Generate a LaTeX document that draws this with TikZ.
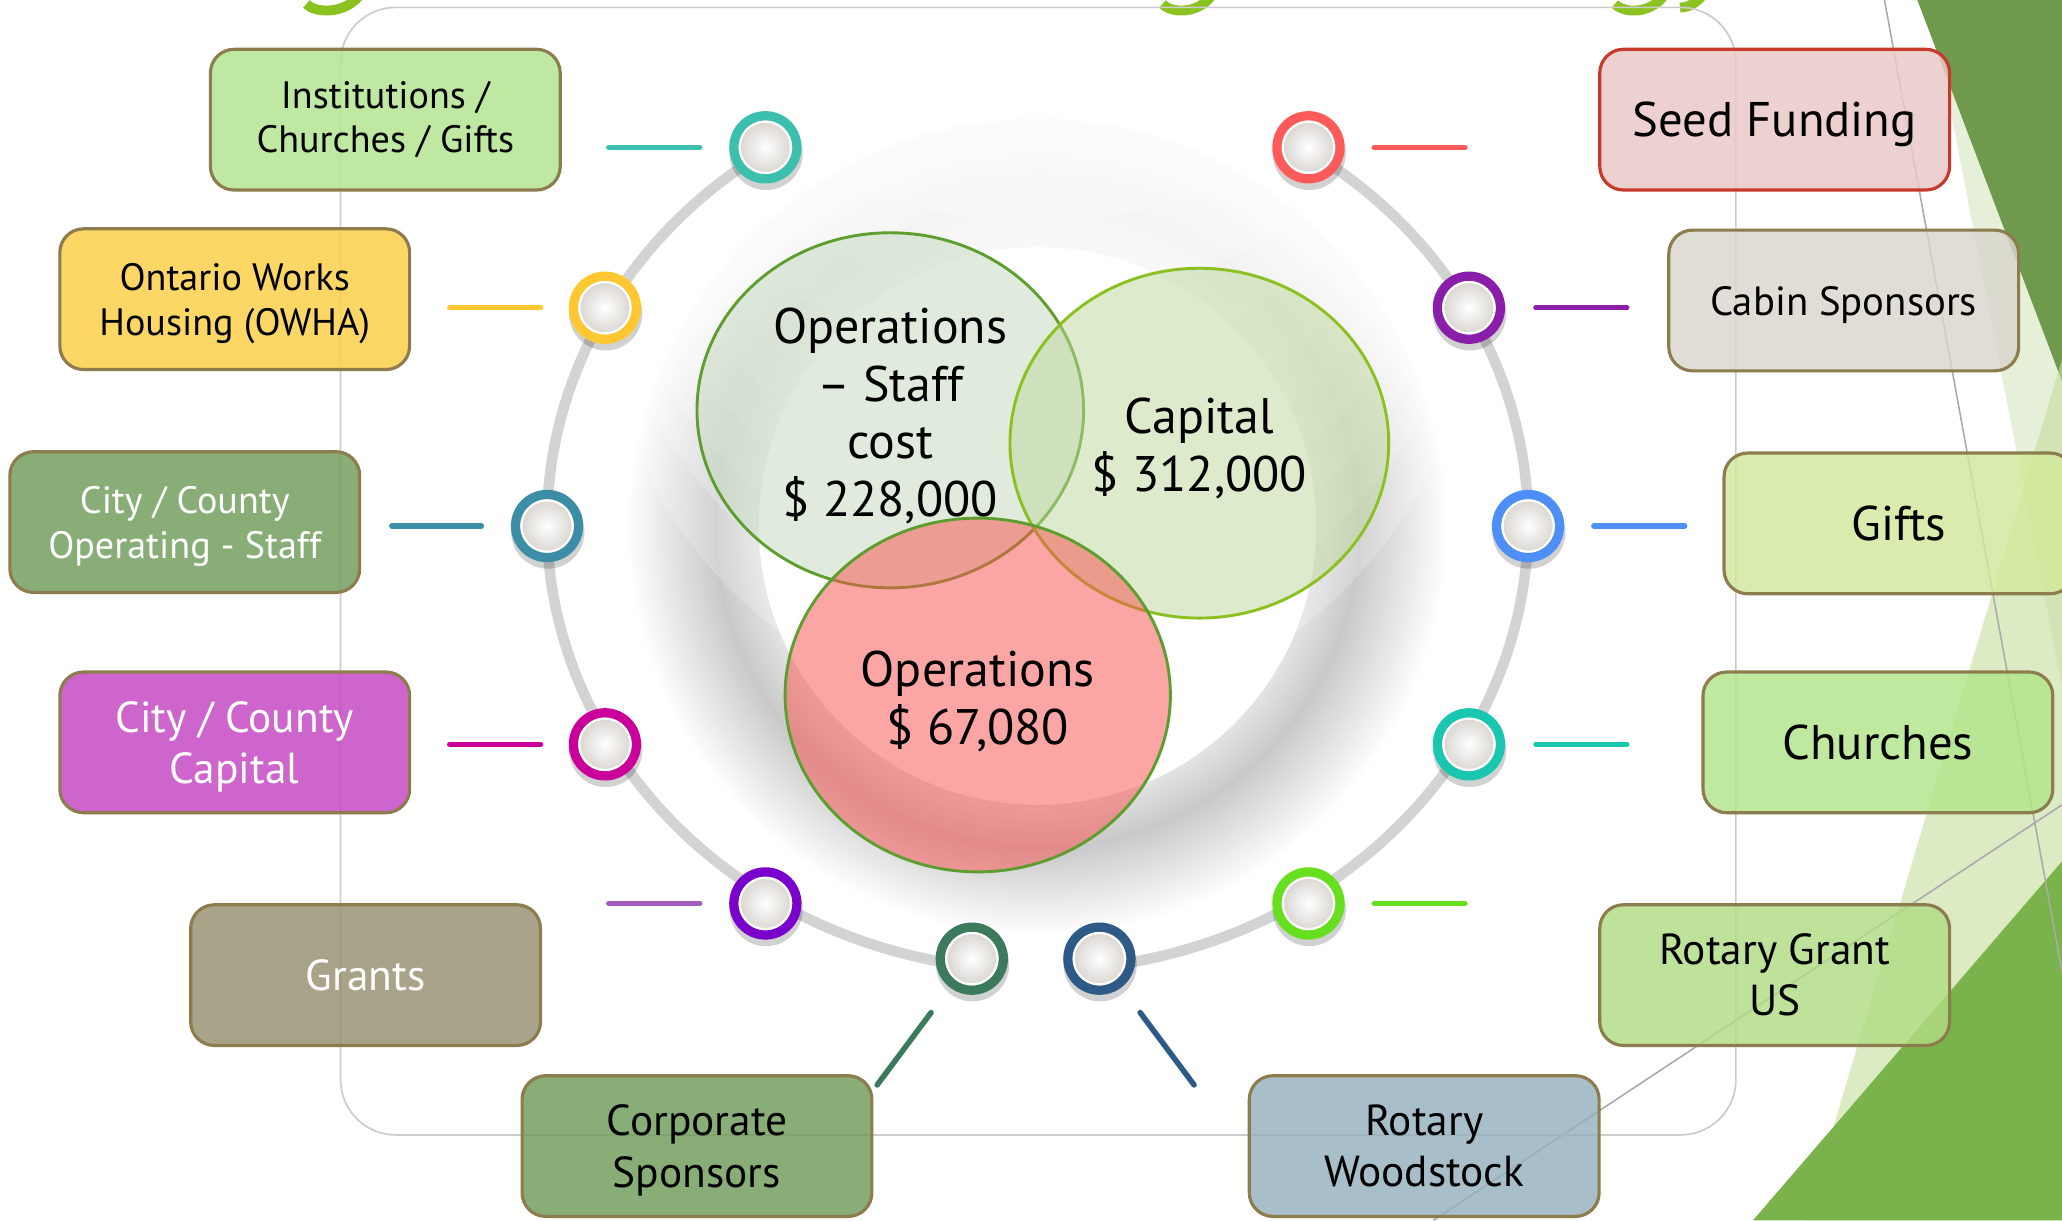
\documentclass[tikz,border=0pt]{standalone}
\usepackage{fontspec}
\setmainfont{PT Sans}
\usetikzlibrary{shapes.geometric,shadows}

\definecolor{darkgreen}{HTML}{6F9A4E}
\definecolor{paleA}{HTML}{E6EFD8}
\definecolor{paleB}{HTML}{C6DE9E}
\definecolor{midgreen}{HTML}{7AB24B}
\definecolor{thinline}{HTML}{AAAAAA}
\definecolor{titlegreen}{HTML}{8CC220}
\definecolor{framegray}{HTML}{CCCCCC}
\definecolor{ringgray}{HTML}{D3D3D3}
\definecolor{boxline}{HTML}{8C7C4E}
\definecolor{seedline}{HTML}{C73A2B}
\definecolor{cInst}{HTML}{B2E48E}
\definecolor{cOwha}{HTML}{FDCF44}
\definecolor{cCityOp}{HTML}{709C58}
\definecolor{cCityCap}{HTML}{C244C2}
\definecolor{cGrants}{HTML}{958F70}
\definecolor{cCorp}{HTML}{709C58}
\definecolor{cRotW}{HTML}{96B0BC}
\definecolor{cRotG}{HTML}{B1DC84}
\definecolor{cChurch}{HTML}{B2E58A}
\definecolor{cGifts}{HTML}{D3E99B}
\definecolor{cCabin}{HTML}{D8D6CC}
\definecolor{cSeed}{HTML}{EAC8C6}
\definecolor{vA}{HTML}{C3D9BF}
\definecolor{vAline}{HTML}{5E9E2E}
\definecolor{vB}{HTML}{BDD79B}
\definecolor{vBline}{HTML}{8CC020}
\definecolor{vC}{HTML}{F95452}
\definecolor{mkgray}{HTML}{D2CEC8}
\definecolor{mk1}{HTML}{3DBFAD}
\definecolor{mk2}{HTML}{FFC730}
\definecolor{mk3}{HTML}{3B8EA5}
\definecolor{mk4}{HTML}{C9009A}
\definecolor{mk5}{HTML}{7A00CC}
\definecolor{ln5}{HTML}{A35DB8}
\definecolor{mk6}{HTML}{3B7A5C}
\definecolor{mk7}{HTML}{2E5A87}
\definecolor{mk8}{HTML}{66E01E}
\definecolor{mk9}{HTML}{19C7B0}
\definecolor{mk10}{HTML}{4D8FF7}
\definecolor{mk11}{HTML}{8B1DAB}
\definecolor{mk12}{HTML}{FF5A5A}

\newcommand{\nodp}[1]{\raisebox{0pt}[\height][0pt]{#1}}

\tikzset{
  fbox/.style={rounded corners=18, draw=boxline, line width=2.4, fill=#1, fill opacity=0.82, text opacity=1, minimum width=266, minimum height=107, align=center, inner sep=2},
  fsA/.style={font=\fontsize{29}{34}\selectfont},
  fsB/.style={font=\fontsize{33}{39}\selectfont},
  fsC/.style={font=\fontsize{37}{43}\selectfont},
  fsD/.style={font=\fontsize{31}{36}\selectfont},
  marker/.style={circle, draw=#1, line width=7, minimum size=48, inner sep=0, inner color=white, outer color=mkgray,
     path picture={\draw[white, line width=1.8] (path picture bounding box.center) circle (19.6);},
     drop shadow={shadow xshift=0.5pt, shadow yshift=-4pt, shadow scale=1.16, opacity=0.18, fill=black}},
  conn/.style={draw=#1, line width=4.2, line cap=round},
  venn/.style={ellipse, inner sep=0, line width=2.2},
  venntext/.style={align=center, font=\fontsize{38}{44}\selectfont, text=black},
}

\begin{document}
\begin{tikzpicture}[x=1pt,y=-1pt]
\useasboundingbox (0,0) rectangle (1568,928);
\clip (0,0) rectangle (1568,928);
\fill[white] (0,0) rectangle (1568,928);

% soft shadow band round the centre: nested flat discs, outermost first
\foreach \r in {312,310,...,214}{
  \pgfmathsetmacro\k{(\r-1)<245 ? 11+(\r-1-212)*10/33 : 21*(312-\r+1)/67}
  \fill[black!\k] (789,400) circle[radius=\r];
}
% lighten the upper part
\foreach \e in {185,240,280,320,360,400,450,500,560,620}{
  \fill[white, opacity=0.2] (789,400-\e) circle[radius=330];
}
\fill[white] (789,400) circle[radius=212];

% right-hand decoration
\fill[paleA] (1467,0) -- (1568,0) -- (1568,522) -- cycle;
\fill[darkgreen] (1458,0) -- (1568,0) -- (1568,290) -- cycle;
\fill[paleB, opacity=0.6] (1568,273) -- (1373,928) -- (1568,928) -- cycle;
\fill[midgreen] (1333,928) -- (1568,655) -- (1568,928) -- cycle;
\draw[thinline, line width=1.2] (1433,0) -- (1568,739);
\draw[thinline, line width=1.2] (1090,928) -- (1568,612);

% clipped title fragments
\draw[titlegreen, line width=7.5] (233,3) .. controls (240,10.5) and (262,10.5) .. (273,-3);
\draw[titlegreen, line width=7.5] (884,3) .. controls (891,10.5) and (911,10.5) .. (921,-3);
\draw[titlegreen, line width=7.5] (1228,3) .. controls (1235,10.5) and (1255,10.5) .. (1265,-3);
\draw[titlegreen, line width=7.5] (1277.5,5.8) .. controls (1285,5.5) and (1290,2) .. (1295,-4);

% frame
\draw[framegray, line width=1.3, rounded corners=42] (259,5.6) rectangle (1320,863);

% gray ring arcs
\draw[ringgray, line width=8] (789,398) ++(97.8:373 and 340) arc[start angle=97.8, end angle=236.6, x radius=373, y radius=340];
\draw[ringgray, line width=8] (789,398) ++(-56.6:373 and 340) arc[start angle=-56.6, end angle=82.6, x radius=373, y radius=340];

% Venn circles
\node[venn, fill=vA, fill opacity=0.5, draw=vAline, minimum width=294, minimum height=270] (v1) at (677,312) {};
\node[venn, fill=vB, fill opacity=0.5, draw=vBline, minimum width=288, minimum height=266] (v2) at (912,337) {};
\node[venn, fill=vC, fill opacity=0.52, draw=vAline, minimum width=293, minimum height=269] (v3) at (743.5,528.5) {};
\node[venntext] (t1) at (677,313.5) {Operations\\– Staff\\cost\\\nodp{\$ 228,000}};
\node[venntext] (t2) at (912,338) {Capital\\\nodp{\$ 312,000}};
\node[venntext] (t3) at (743.5,530.5) {Operations\\\nodp{\$ 67,080}};

% connector end points
\coordinate (l1a) at (463,112);  \coordinate (l1b) at (532,112);
\coordinate (l2a) at (342,234);  \coordinate (l2b) at (411,234);
\coordinate (l3a) at (298,400);  \coordinate (l3b) at (366,400);
\coordinate (l4a) at (342,566);  \coordinate (l4b) at (411,566);
\coordinate (l5a) at (463,687);  \coordinate (l5b) at (532,687);
\coordinate (l6a) at (667,825);  \coordinate (l6b) at (708,770);
\coordinate (l7a) at (908,825);  \coordinate (l7b) at (867,770);
\coordinate (l8a) at (1114,687); \coordinate (l8b) at (1045,687);
\coordinate (l9a) at (1237,566); \coordinate (l9b) at (1168,566);
\coordinate (l10a) at (1281,400); \coordinate (l10b) at (1212,400);
\coordinate (l11a) at (1237,234); \coordinate (l11b) at (1168,234);
\coordinate (l12a) at (1114,112); \coordinate (l12b) at (1045,112);
\draw[conn=mk1] (l1a) -- (l1b);
\draw[conn=mk2] (l2a) -- (l2b);
\draw[conn=mk3] (l3a) -- (l3b);
\draw[conn=mk4] (l4a) -- (l4b);
\draw[conn=ln5] (l5a) -- (l5b);
\draw[conn=mk6] (l6a) -- (l6b);
\draw[conn=mk7] (l7a) -- (l7b);
\draw[conn=mk8] (l8a) -- (l8b);
\draw[conn=mk9] (l9a) -- (l9b);
\draw[conn=mk10] (l10a) -- (l10b);
\draw[conn=mk11] (l11a) -- (l11b);
\draw[conn=mk12] (l12a) -- (l12b);

% markers
\node[marker=mk1] (m1) at (582,112) {};
\node[marker=mk2] (m2) at (460,234) {};
\node[marker=mk3] (m3) at (416,400) {};
\node[marker=mk4] (m4) at (460,566) {};
\node[marker=mk5] (m5) at (582,687) {};
\node[marker=mk6] (m6) at (739,729) {};
\node[marker=mk7] (m7) at (836,729) {};
\node[marker=mk8] (m8) at (995,687) {};
\node[marker=mk9] (m9) at (1117,566) {};
\node[marker=mk10] (m10) at (1162,400) {};
\node[marker=mk11] (m11) at (1117,234) {};
\node[marker=mk12] (m12) at (995,112) {};

% boxes
\node[fbox=cInst, fsA] (b1) at (293,91) {Institutions /\\Churches / Gifts};
\node[fbox=cOwha, fsA] (b2) at (178.5,227.5) {Ontario Works\\\nodp{Housing (OWHA)}};
\node[fbox=cCityOp, fsA, text=white] (b3) at (140.5,397) {City / County\\\nodp{Operating - Staff}};
\node[fbox=cCityCap, fsB, text=white] (b4) at (178.5,564.5) {City / County\\\nodp{Capital}};
\node[fbox=cGrants, fsB, text=white] (b5) at (278,741.5) {Grants};
\node[fbox=cCorp, fsB] (b6) at (530,871.5) {Corporate\\\nodp{Sponsors}};
\node[fbox=cRotW, fsB] (b7) at (1083,871.5) {Rotary\\Woodstock};
\node[fbox=cRotG, fsB] (b8) at (1349.5,741.5) {Rotary Grant\\US};
\node[fbox=cChurch, fsC] (b9) at (1428,564.5) {Churches};
\node[fbox=cGifts, fsC] (b10) at (1444,398) {Gifts};
\node[fbox=cCabin, fsD] (b11) at (1402,228.5) {\nodp{Cabin Sponsors}};
\node[fbox=cSeed, draw=seedline, fsC] (b12) at (1349.5,91) {\nodp{Seed Funding}};
\end{tikzpicture}
\end{document}
